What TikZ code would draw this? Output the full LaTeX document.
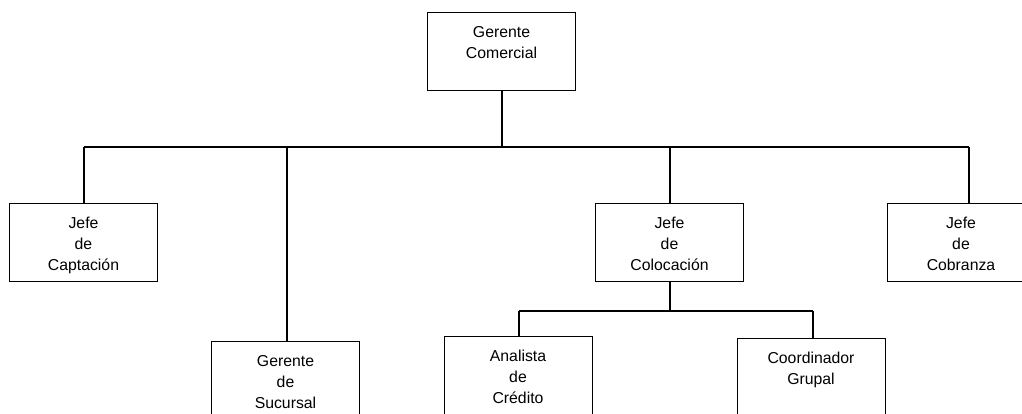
\documentclass[tikz,border=0pt]{standalone}
\usepackage{fontspec}
\setmainfont{Liberation Sans}
\begin{document}
\begin{tikzpicture}[x=1pt,y=-1pt,
  orgbox/.style={draw=black, line width=1pt, fill=white, inner sep=0pt,
    minimum width=148pt, minimum height=78pt, align=center,
    text height=67pt, text depth=11pt,
    font=\fontsize{15.8pt}{21pt}\selectfont},
  link/.style={draw=black, line width=2pt}]
\useasboundingbox (0,0) rectangle (1022,413);
\clip (0,0) rectangle (1022,413);

% boxes of the chart
\node[orgbox] (gc)   at (501.5,51) {Gerente\\Comercial\\\mbox{}};
\node[orgbox] (capt) at (83.5,242) {Jefe\\de\\Captación};
\node[orgbox] (suc)  at (285.5,380) {Gerente\\de\\Sucursal};
\node[orgbox] (col)  at (669.5,242) {Jefe\\de\\Colocación};
\node[orgbox] (cob)  at (961,242) {Jefe\\de\\Cobranza};
\node[orgbox] (ana)  at (518,375) {Analista\\de\\Crédito};
\node[orgbox] (cg)   at (811,377) {Coordinador\\Grupal\\\mbox{}};

% main horizontal bar and its ends
\coordinate (barL) at (84,147);
\coordinate (barR) at (969,147);
% bar under Jefe de Colocación
\coordinate (subL) at (519,311);
\coordinate (subR) at (813,311);

\draw[link] (gc.south) -- (gc.south |- barL);
\draw[link] (barL) -- (barR);
\draw[link] (barL) -- (barL |- capt.north);
\draw[link] (suc.north |- barL) ++(1.5,0) coordinate (sucTop) -- (sucTop |- suc.north);
\draw[link] (col.north |- barL) -- (col.north);
\draw[link] (barR) -- (barR |- cob.north);

\draw[link] (col.south) -- (col.south |- subL);
\draw[link] (subL) -- (subR);
\draw[link] (subL) -- (subL |- ana.north);
\draw[link] (subR) -- (subR |- cg.north);
\end{tikzpicture}
\end{document}
